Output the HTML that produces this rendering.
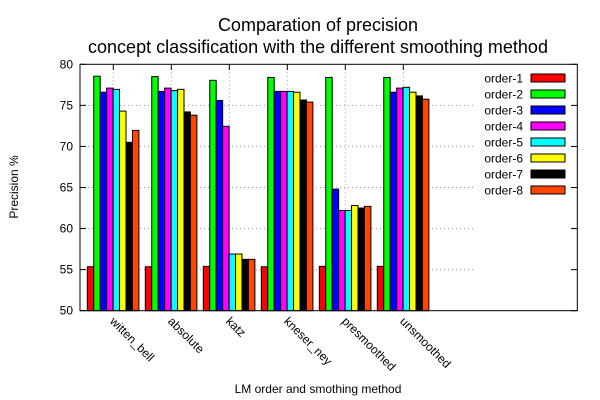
<!DOCTYPE html>
<html><head><meta charset="utf-8"><style>body{margin:0;background:#fff}svg{display:block;font-family:"Liberation Sans",sans-serif}</style></head>
<body>
<svg id="c" width="600" height="400">
<text x="318" y="31" font-size="18" text-anchor="middle">Comparation of precision</text>
<text x="318" y="53" font-size="18" text-anchor="middle">concept classification with the different smoothing method</text>
<text transform="translate(18,187) rotate(-90)" font-size="12" text-anchor="middle">Precision %</text>
<text x="318" y="393" font-size="12" text-anchor="middle">LM order and smothing method</text>
<g id="grid"></g><g id="bars"></g><g id="legend"></g>
<rect x="80" y="64.3" width="497.3" height="246.4" fill="none" stroke="#000" stroke-width="1"/>
</svg>
<script>
const categories=["witten_bell","absolute","katz","kneser_ney","presmoothed","unsmoothed"];
const seriesNames=["order-1","order-2","order-3","order-4","order-5","order-6","order-7","order-8"];
const colors=["#ff0000","#00ff00","#0000ff","#ff00ff","#00ffff","#ffff00","#000000","#ff4500"];
const order1=[55.35,55.35,55.4,55.35,55.4,55.4];
const order2=[78.55,78.5,78.05,78.4,78.4,78.4];
const order3=[76.6,76.7,75.6,76.7,64.8,76.6];
const order4=[77.1,77.1,72.45,76.7,62.2,77.1];
const order5=[76.95,76.8,56.9,76.7,62.2,77.2];
const order6=[74.3,76.95,56.9,76.6,62.8,76.6];
const order7=[70.5,74.2,56.25,75.65,62.5,76.15];
const order8=[71.95,73.8,56.25,75.4,62.7,75.75];
const yTicks=[50,55,60,65,70,75,80];
const series=[order1,order2,order3,order4,order5,order6,order7,order8];
const NS="http://www.w3.org/2000/svg";
const y=v=>310.7-(v-50)*(246.4/30);
const x=i=>113.3+58*i;
const bw=6.45;
function mk(t,a,p){const e=document.createElementNS(NS,t);for(const k in a)e.setAttribute(k,a[k]);p.appendChild(e);return e;}
const g=document.getElementById('grid'),b=document.getElementById('bars'),L=document.getElementById('legend');
yTicks.forEach(v=>{
 if(v>50&&v<80){const l=mk('line',{x1:80,x2:475,y1:y(v),y2:y(v),stroke:'#999','stroke-dasharray':'1,3'},g);
 
 }
 mk('line',{x1:80,x2:86,y1:y(v),y2:y(v),stroke:'#000'},g);
 mk('line',{x1:571,x2:577,y1:y(v),y2:y(v),stroke:'#000'},g);
 const t=mk('text',{x:73,y:y(v)+4,'font-size':12,'text-anchor':'end'},g);t.textContent=v;
 
 
});
categories.forEach((c,i)=>{
 const l=mk('line',{x1:x(i),x2:x(i),y1:64.3,y2:310.7,stroke:'#999','stroke-dasharray':'1,3'},g);
 
 
 mk('line',{x1:x(i),x2:x(i),y1:64.3,y2:70,stroke:'#000'},g);
 const t=mk('text',{x:0,y:0,'font-size':12,transform:`translate(${x(i)-4},${322}) rotate(45)`},g);t.textContent=c;
 
 
 series.forEach((s,j)=>{
  const r=mk('rect',{x:x(i)-26+j*bw,y:y(s[i]),width:bw,height:310.7-y(s[i]),fill:colors[j],stroke:'#000','stroke-width':1},b);
  
  
 });
});
seriesNames.forEach((n,j)=>{
 const yy=78+16*j;
 const t=mk('text',{x:523,y:yy+4.5,'font-size':12,'text-anchor':'end'},L);t.textContent=n;
 
 
 const r=mk('rect',{x:531,y:yy-4,width:34,height:8,fill:colors[j],stroke:'#000'},L);
 
 
});
</script>
</body></html>
